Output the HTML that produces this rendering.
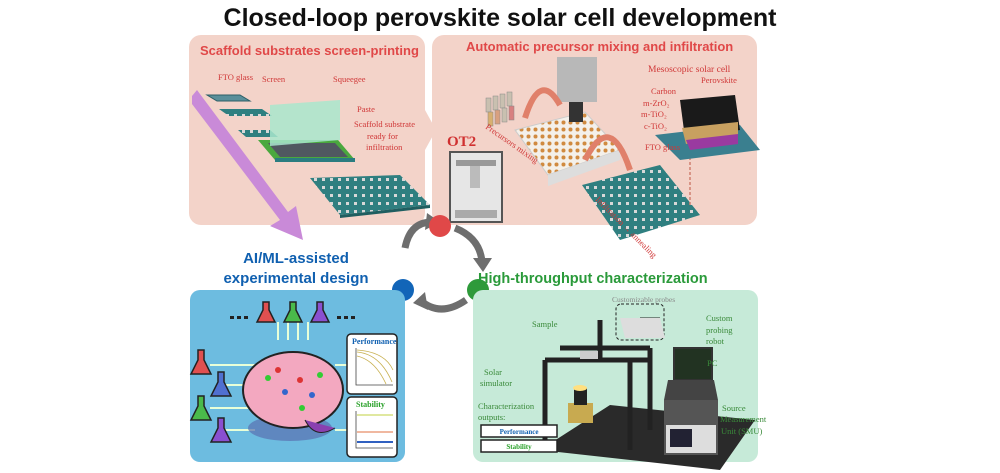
<!DOCTYPE html>
<html><head><meta charset="utf-8"><style>
html,body{margin:0;padding:0;background:#fff;}
svg{display:block;}
.s{font-family:"Liberation Serif",serif;}
.b{font-family:"Liberation Sans",sans-serif;font-weight:bold;}
</style></head><body>
<svg width="1000" height="473" viewBox="0 0 1000 473" xmlns="http://www.w3.org/2000/svg">
<defs>
<pattern id="grid" width="8" height="8" patternUnits="userSpaceOnUse"><rect width="8" height="8" fill="#2f7f80"/><rect x="2" y="2" width="3" height="3" fill="#d8d8d8"/></pattern>
<pattern id="wells" width="7" height="7" patternUnits="userSpaceOnUse"><rect width="7" height="7" fill="#f4f0ea"/><circle cx="3.5" cy="3.5" r="2" fill="#d08a40"/></pattern>
</defs>
<text x="500" y="26" text-anchor="middle" class="b" font-size="25" fill="#111">Closed-loop perovskite solar cell development</text>

<!-- Panel 1 -->
<rect x="189" y="35" width="236" height="190" rx="12" fill="#f3d3c9"/>
<path d="M425,110 L436,130 L425,150z" fill="#f3d3c9"/>
<text x="200" y="55" class="b" font-size="13" fill="#e04848">Scaffold substrates screen-printing</text>
<!-- Panel 2 -->
<rect x="432" y="35" width="325" height="190" rx="12" fill="#f3d3c9"/>
<text x="466" y="51" class="b" font-size="13" fill="#e04848">Automatic precursor mixing and infiltration</text>

<!-- purple arrow -->
<path d="M192,96 L197,90 L288,212 L296,206 L303,240 L270,226 L280,220 L192,104z" fill="#c98ad8"/>

<!-- substrates -->
<polygon points="207,95 240,95 250,101 217,101" fill="#5a8f9a" stroke="#2c5f66"/>
<polygon points="219,109 262,109 272,116 229,116" fill="url(#grid)"/>
<polygon points="238,130 270,130 278,137 246,137" fill="url(#grid)"/>
<polygon points="258,140 338,140 355,160 275,160" fill="#4aa83e"/>
<polygon points="268,143 335,143 348,157 280,157" fill="#505860"/>
<polygon points="275,158 355,158 355,162 275,162" fill="#2a7c80"/>
<polygon points="270,105 340,100 340,140 270,146" fill="#a8e6cc" opacity="0.85"/>
<polygon points="310,178 400,175 430,205 340,215" fill="url(#grid)"/>
<polygon points="340,215 430,205 430,208 340,218" fill="#1f5e60"/>
<g class="s" font-size="8.5" fill="#d03838">
<text x="218" y="80">FTO glass</text><text x="262" y="82">Screen</text><text x="333" y="82">Squeegee</text>
<text x="357" y="112">Paste</text><text x="354" y="127">Scaffold substrate</text><text x="367" y="139">ready for</text><text x="366" y="150">infiltration</text>
</g>

<!-- Panel 2 content -->
<text x="447" y="146" class="s" font-weight="bold" font-size="15" fill="#d03030">OT2</text>
<rect x="450" y="152" width="52" height="70" fill="#e6e6e6" stroke="#555" stroke-width="2"/>
<rect x="456" y="160" width="40" height="6" fill="#999"/>
<rect x="470" y="166" width="10" height="22" fill="#bbb"/>
<rect x="455" y="210" width="42" height="8" fill="#aaa"/>
<g fill="#c9c0b0" stroke="#888" stroke-width="0.5">
<rect x="486" y="98" width="5" height="14"/><rect x="493" y="96" width="5" height="14"/><rect x="500" y="94" width="5" height="14"/><rect x="507" y="92" width="5" height="14"/>
<rect x="488" y="112" width="5" height="14" fill="#d8b070"/><rect x="495" y="110" width="5" height="14" fill="#d8a080"/><rect x="502" y="108" width="5" height="14"/><rect x="509" y="106" width="5" height="14" fill="#d88080"/>
</g>
<polygon points="515,130 585,112 620,150 548,175" fill="url(#wells)" stroke="#ccc"/>
<polygon points="548,175 620,150 620,160 548,186" fill="#ddd"/>
<rect x="557" y="57" width="40" height="45" fill="#b8b8b8"/>
<rect x="569" y="102" width="14" height="20" fill="#333"/>
<path d="M525,118 Q540,70 560,105" fill="none" stroke="#e0806a" stroke-width="6"/>
<path d="M585,160 Q610,110 630,170" fill="none" stroke="#e0806a" stroke-width="6"/>
<polygon points="582,185 660,165 700,215 620,240" fill="url(#grid)"/>
<text x="485" y="128" class="s" font-size="8.5" fill="#d03838" transform="rotate(35 485 128)">Precursors mixing</text>
<text x="595" y="200" class="s" font-size="8.5" fill="#d03838" transform="rotate(45 595 200)">Infiltration → annealing</text>
<line x1="690" y1="205" x2="690" y2="158" stroke="#d08070" stroke-dasharray="3,2" stroke-width="1.5"/>
<polygon points="655,135 740,125 760,150 680,160" fill="#3a7f8f"/>
<polygon points="680,100 735,95 740,130 685,138" fill="#1a1a1a"/>
<polygon points="682,128 738,122 738,136 686,144" fill="#c8a060"/>
<polygon points="686,140 738,134 738,144 690,150" fill="#9a3aa0"/>
<g class="s" font-size="8.5" fill="#d03838">
<text x="648" y="72" font-size="9.5">Mesoscopic solar cell</text><text x="701" y="83">Perovskite</text>
<text x="651" y="94">Carbon</text><text x="643" y="106">m-ZrO₂</text><text x="641" y="117">m-TiO₂</text><text x="644" y="129">c-TiO₂</text><text x="645" y="150">FTO glass</text>
</g>

<!-- cycle -->
<path d="M405,248 Q410,222 432,222" fill="none" stroke="#6e6e6e" stroke-width="7"/>
<path d="M427,213 L440,222 L425,230z" fill="#6e6e6e"/>
<path d="M455,228 Q480,238 482,262" fill="none" stroke="#6e6e6e" stroke-width="7"/>
<path d="M473,258 L483,272 L492,258z" fill="#6e6e6e"/>
<path d="M466,300 Q440,318 420,300" fill="none" stroke="#6e6e6e" stroke-width="7"/>
<path d="M425,292 L413,303 L428,310z" fill="#6e6e6e"/>
<circle cx="440" cy="226" r="11" fill="#e04848"/>
<circle cx="403" cy="290" r="11" fill="#1265b8"/>
<circle cx="478" cy="290" r="11" fill="#2e9a3a"/>

<!-- blue panel -->
<text x="296" y="263" text-anchor="middle" class="b" font-size="15" fill="#1060b0">AI/ML-assisted</text>
<text x="296" y="283" text-anchor="middle" class="b" font-size="15" fill="#1060b0">experimental design</text>
<rect x="190" y="290" width="215" height="172" rx="10" fill="#6dbce0"/>
<g stroke="#e8ffd8" stroke-width="2" fill="none">
<path d="M210,365 H255"/><path d="M220,385 H250"/><path d="M210,408 H250"/><path d="M220,430 H255"/><path d="M335,365 H350"/><path d="M335,430 H350"/>
<path d="M278,340 V322 M288,340 V322 M298,340 V322 M308,340 V322"/>
</g>
<g fill="#222"><rect x="230" y="316" width="4" height="3"/><rect x="237" y="316" width="4" height="3"/><rect x="244" y="316" width="4" height="3"/><rect x="337" y="316" width="4" height="3"/><rect x="344" y="316" width="4" height="3"/><rect x="351" y="316" width="4" height="3"/></g>
<g stroke="#222" stroke-width="1.5">
<path d="M263,302 h6 v8 l6,12 h-18 l6,-12z" fill="#e05050"/>
<path d="M290,302 h6 v8 l6,12 h-18 l6,-12z" fill="#4aba4a"/>
<path d="M317,302 h6 v8 l6,12 h-18 l6,-12z" fill="#8a50d0"/>
<path d="M198,350 h6 v10 l7,14 h-20 l7,-14z" fill="#e05050"/>
<path d="M218,372 h6 v10 l7,14 h-20 l7,-14z" fill="#5070d0"/>
<path d="M198,396 h6 v10 l7,14 h-20 l7,-14z" fill="#4aba4a"/>
<path d="M218,418 h6 v10 l7,14 h-20 l7,-14z" fill="#8a50d0"/>
</g>
<ellipse cx="290" cy="428" rx="42" ry="13" fill="#5a70b0" opacity="0.7"/>
<ellipse cx="293" cy="390" rx="50" ry="38" fill="#f3a8c0" stroke="#222" stroke-width="2"/>
<path d="M305,420 q10,20 30,8" fill="#8a40b0" stroke="#222"/>
<g fill="#3c3"><circle cx="268" cy="378" r="3"/><circle cx="302" cy="408" r="3"/><circle cx="320" cy="375" r="3"/></g>
<g fill="#36c"><circle cx="285" cy="392" r="3"/><circle cx="312" cy="395" r="3"/></g>
<g fill="#d33"><circle cx="278" cy="370" r="3"/><circle cx="300" cy="380" r="3"/></g>
<rect x="347" y="334" width="50" height="60" rx="4" fill="#fff" stroke="#222" stroke-width="1.5"/>
<text x="352" y="344" class="s" font-weight="bold" font-size="8" fill="#1060b0">Performance</text>
<path d="M356,348 V385 H393" fill="none" stroke="#444" stroke-width="0.8"/>
<path d="M357,352 Q380,354 392,382 M357,356 Q375,360 386,384 M357,350 Q385,352 393,370" fill="none" stroke="#c8b050" stroke-width="0.8"/>
<rect x="347" y="397" width="50" height="60" rx="4" fill="#fff" stroke="#222" stroke-width="1.5"/>
<text x="356" y="407" class="s" font-weight="bold" font-size="8" fill="#28a028">Stability</text>
<path d="M356,411 V448 H393" fill="none" stroke="#444" stroke-width="0.8"/>
<path d="M357,415 H393" stroke="#c0d040"/><path d="M357,432 H393" stroke="#e07040"/><path d="M357,442 H393" stroke="#3060c0" stroke-width="2"/>

<!-- green panel -->
<text x="478" y="283" class="b" font-size="14.5" fill="#2a9a3a">High-throughput characterization</text>
<rect x="473" y="290" width="285" height="172" rx="10" fill="#c6ead8"/>
<text x="612" y="302" class="s" font-size="7.5" fill="#888">Customizable probes</text>
<rect x="616" y="304" width="48" height="36" rx="5" fill="none" stroke="#222" stroke-dasharray="3,2"/>
<polygon points="540,450 610,405 755,420 720,470" fill="#2a2a2a"/>
<g stroke="#222" stroke-width="5" fill="none">
<path d="M545,360 H650 M545,360 V440 M560,348 H650 M650,348 V430 M630,360 V450 M580,348 L560,348"/>
<path d="M600,320 V360 M640,320 H660"/>
</g>
<polygon points="620,318 660,318 665,338 625,338" fill="#ddd"/>
<rect x="580" y="351" width="18" height="8" fill="#ccc"/>
<rect x="568" y="403" width="25" height="20" fill="#c8aa50"/>
<rect x="574" y="388" width="13" height="17" fill="#222"/>
<ellipse cx="580" cy="388" rx="7" ry="3" fill="#ffe080"/>
<rect x="674" y="348" width="38" height="32" fill="#223322" stroke="#333" stroke-width="2"/>
<polygon points="668,380 714,380 718,400 664,400" fill="#444"/>
<rect x="664" y="400" width="54" height="55" fill="#555"/>
<rect x="666" y="425" width="50" height="28" fill="#ddd"/>
<rect x="670" y="429" width="22" height="18" fill="#223"/>
<g class="s" font-size="8.5" fill="#3a8a3a">
<text x="532" y="327">Sample</text>
<text x="706" y="321">Custom</text><text x="706" y="333">probing</text><text x="706" y="344">robot</text>
<text x="707" y="366">PC</text>
<text x="484" y="375">Solar</text><text x="480" y="386">simulator</text>
<text x="478" y="409">Characterization</text><text x="478" y="420">outputs:</text>
<text x="722" y="411">Source</text><text x="720" y="422">Measurement</text><text x="721" y="434">Unit (SMU)</text>
</g>
<rect x="481" y="425" width="76" height="12" fill="#fff" stroke="#222" stroke-width="1.5"/>
<text x="519" y="434" text-anchor="middle" class="s" font-weight="bold" font-size="7" fill="#1060b0">Performance</text>
<rect x="481" y="440" width="76" height="12" fill="#fff" stroke="#222" stroke-width="1.5"/>
<text x="519" y="449" text-anchor="middle" class="s" font-weight="bold" font-size="7" fill="#28a028">Stability</text>
</svg>
</body></html>
